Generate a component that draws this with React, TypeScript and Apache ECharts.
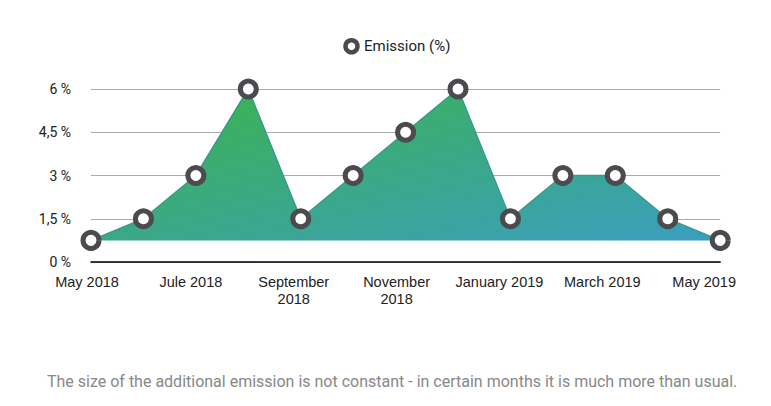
import React, { useEffect, useRef } from "react";
import * as echarts from "echarts";

const categories = [
  "May 2018", "June 2018", "Jule 2018", "August 2018", "September\n2018", "October 2018",
  "November\n2018", "December 2018", "January 2019", "February 2019", "March 2019", "April 2019", "May 2019",
];
const emission = [0.75, 1.5, 3, 6, 1.5, 3, 4.5, 6, 1.5, 3, 3, 1.5, 0.75];
const seriesName = "Emission (%)";
const footer = "The size of the additional emission is not constant - in certain months it is much more than usual.";

// leftward nudge (px) of each shown month label
const labelShift = [4, 0, 5, 0, 7, 0, 9, 0, 11, 0, 13, 0, 16];

export default function App() {
  const ref = useRef<HTMLDivElement>(null);
  useEffect(() => {
    document.body.style.margin = "0";
    const chart = echarts.init(ref.current!, null, { renderer: "svg" });
    const rich: Record<string, any> = {};
    labelShift.forEach((s, i) => {
      rich["s" + i] = {
        fontFamily: "Liberation Sans, Arial",
        fontSize: 14.5,
        color: "#222",
        lineHeight: 17,
        padding: [0, s * 2, 0, 0],
      };
    });
    chart.setOption({
      animation: false,
      backgroundColor: "#fff",
      legend: {
        top: 33,
        left: 338,
        data: [seriesName],
        itemWidth: 15,
        itemHeight: 15,
        itemGap: 8,
        itemStyle: { color: "#fff", borderColor: "#4a4a4f", borderWidth: 4.5 },
        textStyle: { fontFamily: "Roboto", fontSize: 15, color: "#222" },
      },
      grid: { left: 91, right: 46, top: 89, bottom: 144 },
      xAxis: {
        type: "category",
        data: categories,
        boundaryGap: false,
        axisLine: { lineStyle: { color: "#000", width: 1.5 } },
        axisTick: { show: false },
        axisLabel: {
          interval: 1,
          margin: 11,
          formatter: (v: string, i: number) =>
            v
              .split("\n")
              .map((line) => `{s${i}|${line}}`)
              .join("\n"),
          rich,
        },
      },
      yAxis: {
        type: "value",
        min: 0,
        max: 6,
        interval: 1.5,
        axisLine: { show: false },
        axisTick: { show: false },
        splitLine: { lineStyle: { color: "#aaa", width: 1 } },
        axisLabel: {
          fontFamily: "Roboto",
          fontSize: 14,
          color: "#222",
          margin: 20,
          formatter: (v: number) => String(v).replace(".", ",") + " %",
        },
      },
      series: [
        {
          name: seriesName,
          type: "line",
          data: emission,
          symbol: "circle",
          symbolSize: 16,
          itemStyle: { color: "#fff", borderColor: "#4a4a4f", borderWidth: 5 },
          lineStyle: { color: "#3a9a8a", width: 1.5 },
          areaStyle: {
            origin: 0.75,
            opacity: 1,
            color: new echarts.graphic.LinearGradient(0, 0, 1, 1, [
              { offset: 0, color: "#3bb449" },
              { offset: 1, color: "#3a9ec0" },
            ]),
          },
        },
      ],
      graphic: [
        {
          type: "text",
          left: 47,
          top: 373,
          style: {
            text: footer,
            fontFamily: "Roboto",
            fontSize: 16,
            fill: "#888",
          },
        },
      ],
    });
    return () => chart.dispose();
  }, []);
  return <div ref={ref} style={{ width: 771, height: 406 }} />;
}
